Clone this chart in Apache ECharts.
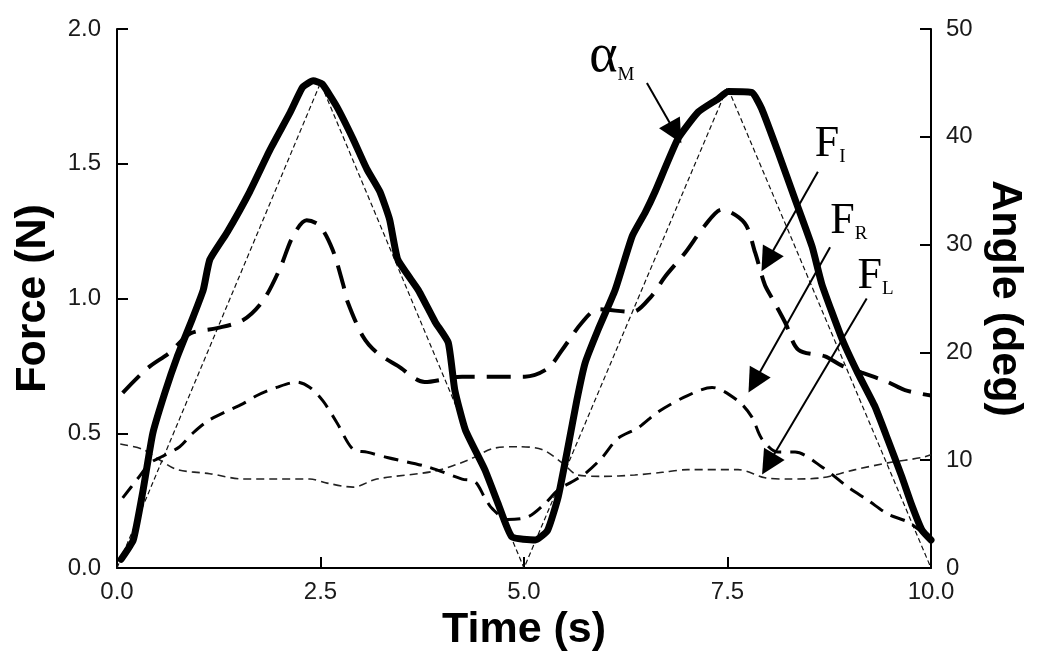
<!DOCTYPE html>
<html>
<head>
<meta charset="utf-8">
<script src="https://cdn.jsdelivr.net/npm/echarts@6/dist/echarts.min.js"></script>
<style>html,body{margin:0;padding:0;background:#fff}#c{width:1050px;height:666px}</style>
</head>
<body>
<div id="c"></div>
<script>
// ---- data ----
const xTicks = [0, 2.5, 5, 7.5, 10];
const forceTicks = [0, 0.5, 1.0, 1.5, 2.0];
const angleTicks = [0, 10, 20, 30, 40, 50];

// alpha_M : measured angle (deg, right axis)
const alphaTime = [0.05,0.2,0.32,0.44,0.59,0.74,0.92,1.06,1.14,1.35,1.63,1.88,2.13,2.28,2.41,2.52,2.70,2.90,3.07,3.23,3.35,3.45,3.70,3.91,4.07,4.15,4.28,4.52,4.68,4.85,5.14,5.29,5.42,5.54,5.65,5.75,5.91,6.12,6.33,6.49,6.61,6.89,7.14,7.38,7.51,7.80,7.92,8.12,8.33,8.54,8.66,8.91,9.10,9.31,9.47,9.64,9.77,9.89,10.0];
const alphaDeg  = [0.8,2.6,7.2,12.5,16.3,19.6,23.0,25.8,28.6,31.1,34.9,38.8,42.3,44.6,45.2,44.9,42.8,39.8,37.0,34.9,32.3,28.6,25.8,22.8,20.9,16.5,12.8,9.1,6.0,2.9,2.6,3.5,6.6,11.2,15.6,19.0,22.1,25.8,30.8,33.0,34.9,39.8,42.3,43.5,44.2,44.1,42.6,38.6,34.2,29.8,26.3,21.2,18.1,15.0,11.9,8.5,5.7,3.5,2.6];

// commanded angle (deg, right axis)
const cmdTime = [0, 2.5, 5, 7.5, 10];
const cmdDeg  = [0, 45, 0, 44.6, 0];

// F_I (N)
const fiTime = [0.07,0.37,0.65,0.90,1.23,1.55,1.79,2.0,2.16,2.33,2.49,2.65,2.78,2.83,3.02,3.19,3.45,3.78,4.24,4.64,5.01,5.29,5.47,5.71,5.91,6.33,6.57,6.73,6.98,7.22,7.43,7.71,7.84,7.96,8.05,8.21,8.37,8.70,8.91,9.15,9.47,9.68,10.0];
const fiVal  = [0.65,0.74,0.80,0.87,0.89,0.92,0.99,1.11,1.23,1.29,1.27,1.18,1.05,0.99,0.86,0.80,0.75,0.69,0.71,0.71,0.71,0.74,0.81,0.91,0.96,0.95,1.01,1.08,1.17,1.27,1.33,1.28,1.17,1.05,1.0,0.91,0.81,0.785,0.75,0.725,0.69,0.66,0.64];

// F_R (N)
const frTime = [0.07,0.25,0.41,0.53,0.77,0.93,1.14,1.55,1.72,1.96,2.21,2.37,2.53,2.70,2.90,3.07,3.32,3.82,4.24,4.40,4.52,4.61,4.80,5.05,5.26,5.42,5.59,5.75,5.96,6.15,6.40,6.65,7.01,7.31,7.63,7.80,7.92,8.12,8.33,8.66,8.98,9.23,9.47,9.72,9.96];
const frVal  = [0.26,0.33,0.39,0.41,0.45,0.50,0.55,0.61,0.64,0.67,0.69,0.67,0.62,0.54,0.44,0.43,0.41,0.375,0.33,0.32,0.26,0.22,0.18,0.19,0.24,0.29,0.32,0.35,0.41,0.48,0.52,0.58,0.64,0.67,0.62,0.56,0.48,0.43,0.43,0.375,0.30,0.25,0.20,0.17,0.115];

// F_L (N)
const flTime = [0.04,0.32,0.53,0.74,1.14,1.55,1.96,2.37,2.58,2.90,3.19,3.91,4.31,4.64,4.93,5.22,5.47,5.66,5.96,6.36,6.70,7.01,7.63,7.96,8.24,8.66,9.07,9.47,9.89,10.0];
const flVal  = [0.46,0.44,0.40,0.365,0.35,0.33,0.33,0.33,0.315,0.30,0.33,0.36,0.40,0.445,0.45,0.44,0.39,0.345,0.34,0.345,0.355,0.365,0.365,0.335,0.33,0.335,0.365,0.39,0.41,0.42];

// annotation labels [time, force] and arrows [fromTime, fromForce, toTime, toForce]
const labelNames = ['αM', 'FI', 'FR', 'FL'];
const labelPos = [[6.08, 1.896], [8.76, 1.572], [8.99, 1.286], [9.32, 1.082]];
const arrows = [[6.51, 1.80, 6.86, 1.615], [8.61, 1.47, 7.99, 1.14], [8.76, 1.19, 7.83, 0.69], [9.21, 1.00, 8.00, 0.385]];

// ---- build ----
const zip = (a, b) => a.map((v, i) => [v, b[i]]);
const axisFont = { fontFamily: 'Liberation Sans', fontSize: 24, color: '#1a1a1a' };
const nameFont = { fontFamily: 'Liberation Sans', fontSize: 43, fontWeight: 'bold', color: '#000' };
const lineAxis = { show: true, lineStyle: { color: '#000', width: 2 } };
const tickIn = { show: true, inside: true, length: 11, lineStyle: { color: '#000', width: 2 } };

const labelFormat = [
  '{a|α}{s|M}', '{f|F}{s|I}', '{f|F}{s|R}', '{f|F}{s|L}'
];

const chart = echarts.init(document.getElementById('c'), null, { renderer: 'canvas' });
chart.setOption({
  animation: false,
  backgroundColor: '#fff',
  grid: { left: 117, right: 119, top: 29, bottom: 98, containLabel: false },
  xAxis: {
    type: 'value', min: xTicks[0], max: xTicks[xTicks.length - 1], interval: 2.5,
    name: 'Time (s)', nameLocation: 'middle', nameGap: 37, nameTextStyle: nameFont,
    axisLine: lineAxis, axisTick: tickIn, splitLine: { show: false },
    axisLabel: Object.assign({ margin: 12, formatter: v => v.toFixed(1) }, axisFont)
  },
  yAxis: [
    {
      type: 'value', min: forceTicks[0], max: forceTicks[forceTicks.length - 1], interval: 0.5,
      name: 'Force (N)', nameLocation: 'middle', nameGap: 62, nameRotate: 90, nameTextStyle: nameFont,
      axisLine: lineAxis, axisTick: tickIn, splitLine: { show: false },
      axisLabel: Object.assign({ margin: 16, formatter: v => v.toFixed(1) }, axisFont)
    },
    {
      type: 'value', position: 'right', min: angleTicks[0], max: angleTicks[angleTicks.length - 1], interval: 10,
      name: 'Angle (deg)', nameLocation: 'middle', nameGap: 46, nameRotate: -90, nameTextStyle: nameFont,
      axisLine: lineAxis, axisTick: tickIn, splitLine: { show: false },
      axisLabel: Object.assign({ margin: 15 }, axisFont)
    }
  ],
  series: [
    {
      name: 'cmd', type: 'line', yAxisIndex: 1, data: zip(cmdTime, cmdDeg), showSymbol: false, symbol: 'none',
      lineStyle: { color: '#111', width: 1.2, type: [5, 3] }, z: 2
    },
    {
      name: 'FL', type: 'line', yAxisIndex: 0, data: zip(flTime, flVal), symbol: 'none', smooth: 0.3,
      lineStyle: { color: '#222', width: 1.6, type: [8, 5] }, z: 3
    },
    {
      name: 'FR', type: 'line', yAxisIndex: 0, data: zip(frTime, frVal), symbol: 'none', smooth: 0.3,
      lineStyle: { color: '#000', width: 3, type: [15, 9] }, z: 3
    },
    {
      name: 'FI', type: 'line', yAxisIndex: 0, data: zip(fiTime, fiVal), symbol: 'none', smooth: 0.3,
      lineStyle: { color: '#000', width: 4, type: [24, 12] }, z: 3
    },
    {
      name: 'alphaM', type: 'line', yAxisIndex: 1, data: zip(alphaTime, alphaDeg), symbol: 'none', smooth: 0.15,
      lineStyle: { color: '#000', width: 7, cap: 'round', join: 'round' }, z: 4
    },
    {
      name: 'annot', type: 'line', yAxisIndex: 0, data: [], symbol: 'none', silent: true, z: 5,
      itemStyle: { color: '#000' },
      markLine: {
        silent: true, animation: false,
        symbol: ['none', 'triangle'], symbolSize: 24,
        itemStyle: { color: '#000' },
        lineStyle: { color: '#000', width: 2, type: 'solid' },
        label: { show: false },
        data: arrows.map(a => [{ coord: [a[0], a[1]] }, { coord: [a[2], a[3]] }])
      },
      markPoint: {
        silent: true, animation: false, symbol: 'circle', symbolSize: 1,
        itemStyle: { color: 'rgba(0,0,0,0)' },
        label: {
          show: true, position: 'inside', color: '#000',
          formatter: p => labelFormat[p.dataIndex],
          rich: {
            a: { fontFamily: 'Liberation Serif', fontSize: 54, color: '#000', verticalAlign: 'bottom' },
            f: { fontFamily: 'Liberation Serif', fontSize: 44, color: '#000', verticalAlign: 'bottom' },
            s: { fontFamily: 'Liberation Serif', fontSize: 19, color: '#000', verticalAlign: 'bottom' }
          }
        },
        data: labelPos.map((p, i) => ({ name: labelNames[i], coord: p }))
      }
    }
  ]
});
</script>
</body>
</html>
